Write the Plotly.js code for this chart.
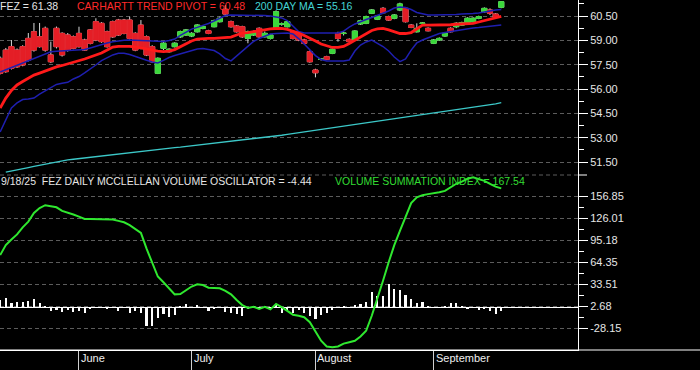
<!DOCTYPE html>
<html><head><meta charset="utf-8">
<script src="https://cdn.plot.ly/plotly-3.0.1.min.js"></script>
<style>html,body{margin:0;padding:0;background:#000;}#chart{width:700px;height:370px;}</style>
</head><body><div id="chart"></div>
<script>
const dates = [
'2025-05-12','2025-05-13','2025-05-14','2025-05-15','2025-05-16','2025-05-19','2025-05-20','2025-05-21','2025-05-22','2025-05-23',
'2025-05-27','2025-05-28','2025-05-29','2025-05-30','2025-06-02','2025-06-03','2025-06-04','2025-06-05','2025-06-06','2025-06-09',
'2025-06-10','2025-06-11','2025-06-12','2025-06-13','2025-06-16','2025-06-17','2025-06-18','2025-06-20','2025-06-23','2025-06-24',
'2025-06-25','2025-06-26','2025-06-27','2025-06-30','2025-07-01','2025-07-02','2025-07-03','2025-07-07','2025-07-08','2025-07-09',
'2025-07-10','2025-07-11','2025-07-14','2025-07-15','2025-07-16','2025-07-17','2025-07-18','2025-07-21','2025-07-22','2025-07-23',
'2025-07-24','2025-07-25','2025-07-28','2025-07-29','2025-07-30','2025-07-31','2025-08-01','2025-08-04','2025-08-05','2025-08-06',
'2025-08-07','2025-08-08','2025-08-11','2025-08-12','2025-08-13','2025-08-14','2025-08-15','2025-08-18','2025-08-19','2025-08-20',
'2025-08-21','2025-08-22','2025-08-25','2025-08-26','2025-08-27','2025-08-28','2025-08-29','2025-09-02','2025-09-03','2025-09-04',
'2025-09-05','2025-09-08','2025-09-09','2025-09-10','2025-09-11','2025-09-12','2025-09-15','2025-09-16','2025-09-17','2025-09-18'];

const openP = [
57.89,58.40,58.61,58.40,58.61,59.12,59.53,59.22,59.74,58.10,
59.74,59.43,59.33,59.22,59.43,59.02,59.64,60.15,60.05,59.53,
60.15,60.25,60.25,60.25,59.43,59.94,59.22,58.61,56.97,58.51,
58.30,58.61,59.22,59.33,59.27,59.53,59.74,59.59,59.84,60.15,
60.91,60.15,59.88,59.84,59.12,59.33,59.74,59.22,59.12,59.74,
60.00,59.84,59.53,59.43,59.02,58.30,57.17,57.82,57.99,58.20,
59.43,59.42,59.06,59.02,60.01,60.05,60.67,60.30,60.97,60.46,
60.36,60.87,60.97,59.94,59.53,60.04,59.74,58.82,59.02,59.27,
59.74,59.84,59.94,60.09,60.15,60.36,60.76,60.87,60.62,61.04];
const highP = [
58.00,58.53,59.02,58.50,58.70,59.45,60.07,60.07,59.85,58.92,
59.85,59.50,59.45,59.30,59.84,59.10,59.70,60.36,60.12,59.60,
60.22,60.32,60.32,60.46,59.50,60.25,59.30,58.70,57.95,58.92,
58.51,58.88,59.60,59.70,59.50,60.00,59.92,59.65,60.28,60.46,
61.18,60.22,59.95,59.90,59.60,59.60,59.80,59.55,59.40,60.85,
60.10,60.22,59.60,59.50,59.10,58.38,57.25,57.90,58.05,58.50,
59.53,59.55,59.12,59.62,60.27,60.52,60.93,60.55,61.05,60.52,
60.62,61.32,61.05,60.00,60.05,60.12,59.80,59.08,59.18,59.50,
59.80,60.12,60.15,60.42,60.42,60.52,61.03,60.97,60.68,61.42];
const lowP = [
56.90,57.00,57.20,57.30,57.40,57.70,58.30,58.55,58.30,57.60,
58.50,58.00,58.30,58.45,58.55,58.35,58.75,58.95,58.85,58.55,
59.15,59.27,59.37,59.05,58.33,58.45,58.03,57.60,56.92,58.40,
58.24,58.56,59.15,59.28,59.20,59.48,59.68,59.38,59.80,60.10,
60.57,59.78,59.48,59.15,58.82,59.28,59.15,59.18,59.05,59.70,
59.90,59.80,59.05,58.95,58.75,57.62,56.72,57.75,57.78,58.15,
58.92,59.30,58.87,58.98,59.95,60.00,60.62,60.25,60.65,60.20,
60.30,60.80,60.10,59.75,59.48,59.95,59.55,58.77,58.97,59.22,
59.48,59.75,59.90,60.04,60.10,60.30,60.70,60.56,60.37,60.98];
const closeP = [
56.97,57.07,57.28,57.37,57.48,57.79,58.40,58.61,58.40,57.68,
58.61,58.10,58.40,58.51,58.61,58.40,58.82,59.02,58.92,58.61,
59.22,59.33,59.43,59.12,58.40,58.51,58.10,57.68,57.89,58.82,
58.45,58.82,59.53,59.64,59.43,59.94,59.84,59.43,60.21,60.36,
60.62,59.84,59.53,59.22,59.53,59.53,59.22,59.43,59.33,60.76,
60.02,60.15,59.12,59.02,58.82,57.68,57.00,57.84,57.83,58.45,
59.12,59.44,58.92,59.57,60.21,60.46,60.87,60.50,60.70,60.25,
60.56,61.24,60.15,59.80,59.74,60.06,59.59,59.02,59.12,59.43,
59.53,60.05,60.09,60.36,60.36,60.46,60.97,60.67,60.42,61.38];

const pivot = [
54.83,55.44,55.91,56.25,56.46,56.68,56.86,56.98,57.11,57.23,
57.36,57.45,57.54,57.63,57.76,57.85,57.97,58.10,58.22,58.40,
58.59,58.63,58.65,58.63,58.59,58.53,58.43,58.37,58.34,58.30,
58.34,58.43,58.62,58.80,58.96,59.08,59.12,59.12,59.12,59.14,
59.17,59.20,59.33,59.45,59.48,59.54,59.61,59.67,59.70,59.73,
59.73,59.67,59.58,59.45,59.30,59.14,58.96,58.77,58.65,58.56,
58.56,58.62,58.80,58.99,59.20,59.42,59.61,59.70,59.74,59.64,
59.51,59.42,59.42,59.48,59.70,59.94,59.94,59.94,59.94,59.94,
59.96,59.99,60.01,60.02,60.05,60.13,60.22,60.28,60.38,60.48];
const upperBand = [
57.05,57.19,57.33,57.47,57.61,57.74,57.89,58.05,58.19,58.30,
58.32,58.34,58.37,58.38,58.40,58.43,58.53,58.64,58.74,58.83,
58.91,58.98,59.01,59.02,59.01,59.00,58.99,58.98,58.93,58.93,
58.99,59.08,59.30,59.51,59.69,59.80,59.91,60.04,60.19,60.36,
60.53,60.56,60.56,60.56,60.56,60.56,60.56,60.53,60.50,60.46,
60.38,60.22,59.88,59.54,59.45,59.45,59.45,59.45,59.45,59.45,
59.45,59.57,59.82,60.01,60.16,60.28,60.41,60.53,60.68,60.81,
60.99,61.05,61.02,60.90,60.72,60.62,60.56,60.56,60.56,60.56,
60.56,60.59,60.62,60.62,60.65,60.68,60.75,60.81,60.87,60.90];
const lowerBand = [
53.35,54.09,54.83,55.14,55.35,55.39,55.44,55.69,55.88,56.09,
56.28,56.35,56.41,56.62,56.77,56.99,57.22,57.48,57.75,57.94,
58.10,58.20,58.20,58.13,58.00,57.87,57.77,57.66,57.60,57.76,
57.94,58.06,58.17,58.28,58.37,58.46,58.49,58.45,58.37,58.16,
57.88,57.73,58.03,58.34,58.65,58.93,59.11,59.27,59.39,59.42,
59.45,59.45,59.39,59.11,58.77,58.40,58.06,57.82,57.73,57.73,
57.73,57.73,57.79,58.34,58.71,58.90,59.02,58.83,58.62,58.34,
57.97,57.69,57.85,58.40,58.84,59.02,59.17,59.30,59.42,59.48,
59.54,59.61,59.67,59.73,59.76,59.79,59.82,59.85,59.91,59.94];
const ma200 = [
null,50.88,50.96,51.02,51.09,51.16,51.23,51.30,51.36,51.43,
51.50,51.57,51.63,51.67,51.71,51.76,51.80,51.84,51.89,51.93,
51.97,52.02,52.06,52.11,52.15,52.18,52.21,52.25,52.29,52.32,
52.36,52.39,52.42,52.46,52.50,52.53,52.57,52.60,52.64,52.68,
52.72,52.76,52.80,52.84,52.87,52.92,52.95,53.00,53.05,53.10,
53.15,53.20,53.25,53.30,53.35,53.40,53.45,53.50,53.55,53.60,
53.65,53.70,53.75,53.80,53.85,53.90,53.95,54.00,54.05,54.10,
54.15,54.20,54.25,54.30,54.35,54.40,54.45,54.50,54.55,54.60,
54.65,54.70,54.75,54.80,54.85,54.90,54.96,55.02,55.09,55.16];

const vsi = [
74,88,96,103,113,121,133,140,144,142,
141,136,134,131,128,124.6,124.6,124.6,124.6,124.4,
124,122,120,116,111,105,83,62,44,36,
28,19,19.5,25,30,33,32,28.3,28,27.5,
24,19,11,4,0,1.7,-1.5,1.5,-2,5.5,
1,-4,-9.5,-11,-13,-20,-34,-46,-54,-55,
-54,-50,-48,-46,-40,-32,-11,12,38,64,
88,108,128,147,155,158,159.5,160.6,162,164,
169,174,177,181,183,181,178,174,170,167.54];
const mvo = [
11.2,13.5,6.5,8,8,9.8,12.6,6.5,2.3,-3.7,
-2.8,-5.1,-2.8,-5.1,-3.7,-6.5,-1,0.5,1.4,-1.9,
0.3,-3.7,-0.5,-6.5,-3.7,-6.5,-24.8,-26,-14.5,-8.4,
-12.1,-9.3,2.8,5.6,1.4,4.2,1.4,-4.7,-1.4,1.4,
-5.1,-7.5,-8.9,-10.7,-1,2.3,-1.4,2.3,-1.4,5,
-7,-2.3,-7,-3.3,-7,-11.7,-15.4,-9.8,-7,-2.3,
1,2.3,1.4,3.7,5.1,7.9,22,16.3,16.3,34,
26,24.7,17.7,12.6,7,7.9,2.3,1,1.4,2.3,
6.5,6.5,2.8,-1.9,1.9,-3.3,-1.9,-4.7,-7.9,-4.44];

const monthKeys = ['2025-06','2025-07','2025-08','2025-09'];
const monthNames = ['June','July','August','September'];
const priceTicks = ['51.50','53.00','54.50','56.00','57.50','59.00','60.50'];
const oscTicks = ['-28.15','2.68','33.51','64.35','95.18','126.01','156.85'];

const idx = dates.map((d, i) => i);
const monthIdx = monthKeys.map(k => dates.findIndex(d => d.startsWith(k)));
const bodyHigh = openP.map((o, i) => Math.max(o, closeP[i]));
const bodyLow = openP.map((o, i) => Math.min(o, closeP[i]));
const priceVals = priceTicks.map(Number);
const oscVals = oscTicks.map(Number);
const mids = v => { const m = []; for (let i = 0; i < v.length - 1; i++) m.push((v[i] + v[i+1]) / 2); return m; };
const priceMinor = mids(priceVals).concat([priceVals[priceVals.length-1] + (priceVals[1]-priceVals[0]) / 2]);
const oscMinor = mids(oscVals);

const RED = '#e41e26', GREEN = '#3bd83b', WICK = '#d9d9d9';
const FONT = 'Liberation Sans, Arial, sans-serif';

const traces = [
  {type:'candlestick', x: idx, open: openP, high: highP, low: lowP, close: closeP,
   increasing:{line:{color:WICK,width:1}, fillcolor:WICK}, decreasing:{line:{color:WICK,width:1}, fillcolor:WICK},
   whiskerwidth:0, xaxis:'x', yaxis:'y', hoverinfo:'skip'},
  {type:'candlestick', x: idx, open: openP, high: bodyHigh, low: bodyLow, close: closeP,
   increasing:{line:{color:GREEN,width:1}, fillcolor:GREEN}, decreasing:{line:{color:RED,width:1}, fillcolor:RED},
   whiskerwidth:0, xaxis:'x', yaxis:'y', hoverinfo:'skip'},
  {type:'scatter', mode:'lines', x: idx, y: upperBand, line:{color:'#1f1fb0', width:1.5}, xaxis:'x', yaxis:'y'},
  {type:'scatter', mode:'lines', x: idx, y: lowerBand, line:{color:'#1f1fb0', width:1.5}, xaxis:'x', yaxis:'y'},
  {type:'scatter', mode:'lines', x: idx, y: pivot, line:{color:'#ff1a1a', width:2.8}, xaxis:'x', yaxis:'y'},
  {type:'scatter', mode:'lines', x: idx, y: ma200, line:{color:'#3cc8c8', width:1.3}, xaxis:'x', yaxis:'y'},
  {type:'bar', x: idx, y: mvo, width:0.38, marker:{color:'#ffffff', line:{width:0}}, xaxis:'x', yaxis:'y2'},
  {type:'scatter', mode:'lines', x: idx, y: vsi, line:{color:'#2fe82f', width:2}, xaxis:'x', yaxis:'y2'}
];

const W = 578, H = 350;
const px = v => v / W, py = v => 1 - v / H;
const ann = (text, x, y, color) => ({text, x: px(x), y: py(y), xref:'paper', yref:'paper', xanchor:'left', yanchor:'middle',
  showarrow:false, font:{family:FONT, size:10.5, color}, borderpad:0});

const annotations = [
  ann('FEZ = ' + closeP[closeP.length-1].toFixed(2), -1, 6, '#e6e6e6'),
  ann('CARHARTT TREND PIVOT = ' + pivot[pivot.length-1].toFixed(2), 76, 6, '#ff2a2a'),
  ann('200 DAY MA = ' + ma200[ma200.length-1].toFixed(2), 254, 6, '#44d4d4'),
  ann('9/18/25\u00a0 FEZ DAILY MCCLELLAN VOLUME OSCILLATOR = ' + mvo[mvo.length-1].toFixed(2), 0, 181, '#e6e6e6'),
  ann('VOLUME SUMMATION INDEX = ' + vsi[vsi.length-1].toFixed(2), 334, 181, '#33dd33')
];
monthIdx.forEach((m, k) => annotations.push({text: monthNames[k], x: m, xref:'x', y: py(358), yref:'paper',
  xanchor:'left', yanchor:'middle', xshift:1, showarrow:false, font:{family:FONT, size:11, color:'#eeeeee'}, borderpad:0}));

const yCommon = {side:'right', anchor:'x', showline:true, linecolor:'#ffffff', linewidth:1,
  ticks:'outside', ticklen:9, tickcolor:'#ffffff', tickwidth:1, tickmode:'array',
  tickfont:{family:FONT, size:11, color:'#e6e6e6'},
  showgrid:true, gridcolor:'#5c5c5c', gridwidth:1, griddash:'4px,3px', fixedrange:true};

const layout = {
  width:700, height:370, margin:{l:0, r:122, t:0, b:20, pad:0},
  paper_bgcolor:'#000', plot_bgcolor:'#000', showlegend:false, boxgap:0.1, boxgroupgap:0, bargap:0,
  xaxis:{range:[-0.03, 102.63], anchor:'y2', showgrid:false, zeroline:false, showline:true, linecolor:'#ffffff', linewidth:1,
    ticks:'outside', ticklen:20, tickcolor:'#cfcfcf', tickmode:'array', tickvals:monthIdx, showticklabels:false,
    rangeslider:{visible:false}, fixedrange:true},
  yaxis: Object.assign({}, yCommon, {domain:[0.5, 1], range:[50.70, 61.486], tickvals:priceVals, ticktext:priceTicks, zeroline:false,
    minor:{tickmode:'array', tickvals:priceMinor, ticks:'outside', ticklen:5, tickcolor:'#ffffff', showgrid:false}}),
  yaxis2: Object.assign({}, yCommon, {domain:[0, 0.5], range:[-58.98, 186.3], tickvals:oscVals, ticktext:oscTicks,
    zeroline:true, zerolinecolor:'#ffffff', zerolinewidth:1,
    minor:{tickmode:'array', tickvals:oscMinor, ticks:'outside', ticklen:5, tickcolor:'#ffffff', showgrid:false}}),
  shapes:[
    {type:'line', xref:'paper', yref:'paper', x0:0, x1:1, y0:0.5, y1:0.5, line:{color:'#5c5c5c', width:1, dash:'4px,3px'}},
    {type:'line', xref:'paper', yref:'paper', x0:1, x1:1 + 9/W, y0:0.5, y1:0.5, line:{color:'#ffffff', width:1}},
    {type:'line', xref:'paper', yref:'paper', x0:0, x1:700/W, y0:0, y1:0, line:{color:'#ffffff', width:1}}
  ],
  annotations
};

Plotly.newPlot('chart', traces, layout, {staticPlot:true, displayModeBar:false});
</script></body></html>
